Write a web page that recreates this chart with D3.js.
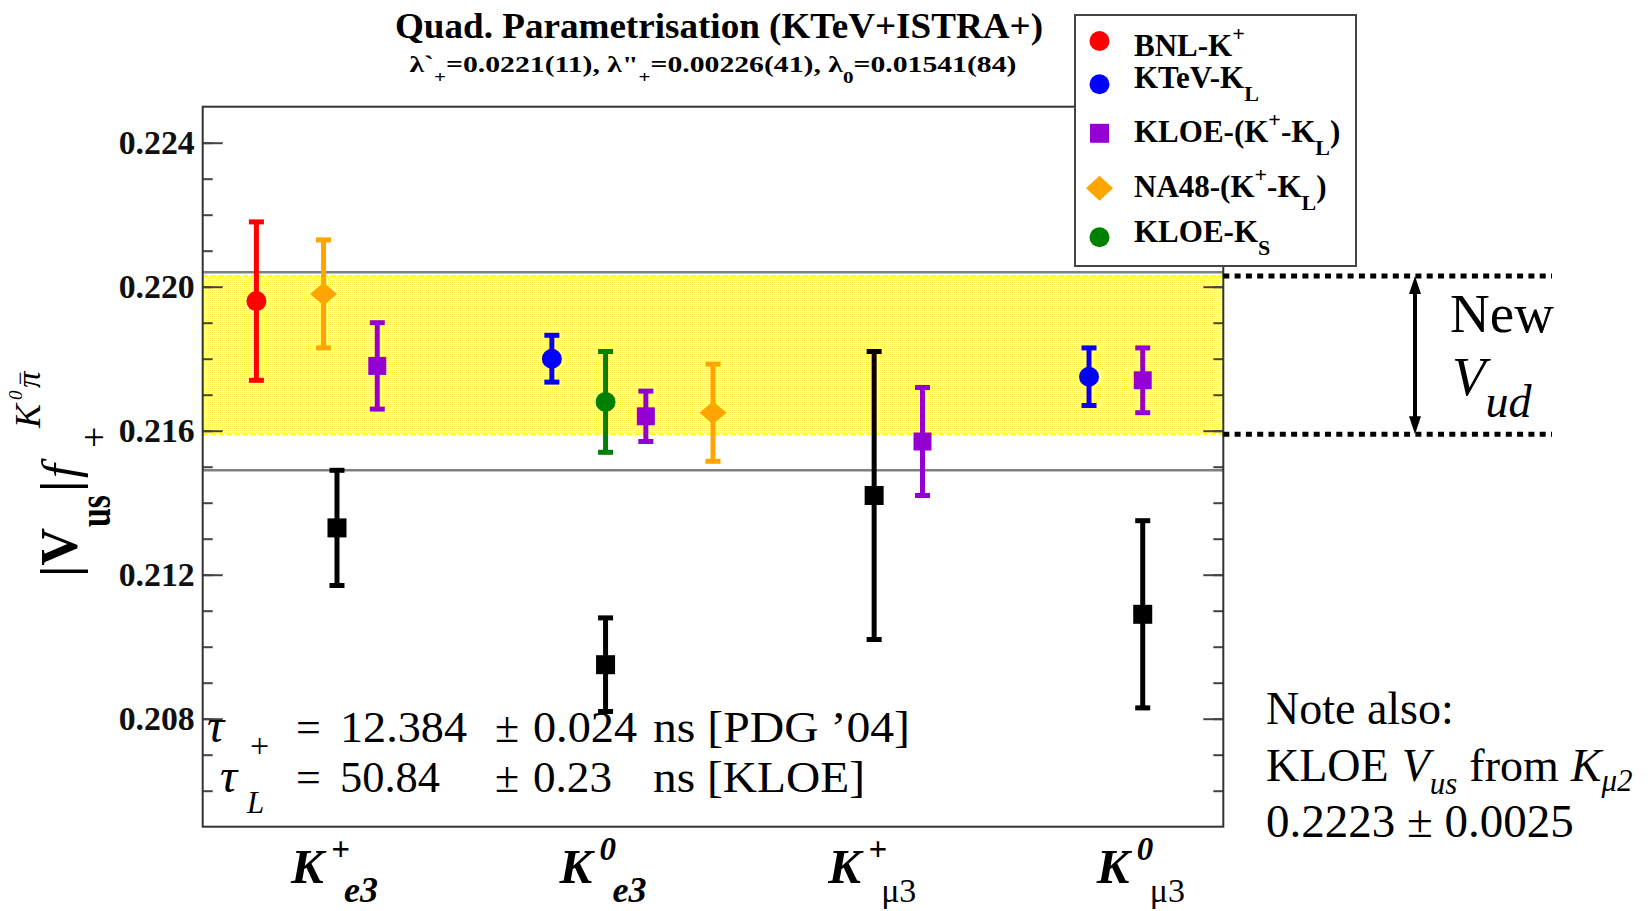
<!DOCTYPE html>
<html>
<head>
<meta charset="utf-8">
<script src="https://cdn.jsdelivr.net/npm/d3@7"></script>
<style>
  body { margin: 0; background: #fff; }
  svg { display: block; font-family: "Liberation Serif", "Times New Roman", serif; }
</style>
</head>
<body>
<svg id="chart" width="1650" height="911"></svg>
<script>
// ---- data ----
// decay channels (x = 1..4)
const categories = [1, 2, 3, 4]
const catMain = ["K", "K", "K", "K"]
const catSup = ["+", "0", "+", "0"]
const catSub = ["e3", "e3", "μ3", "μ3"]

// experiments
const expKeys = ["BNL", "KTeV", "KLOE", "NA48", "KLOEs"]
const expLabels = [
    [["BNL-K", 0], ["+", 1]],
    [["KTeV-K", 0], ["L", -1]],
    [["KLOE-(K", 0], ["+", 1], ["-K", 0], ["L", -1], [")", 0]],
    [["NA48-(K", 0], ["+", 1], ["-K", 0], ["L", -1], [")", 0]],
    [["KLOE-K", 0], ["S", -1]]
]

// points: x position (channel + shift), experiment, value, error
const pointX = [0.70, 0.95, 1.15, 1.00, 1.80, 2.00, 2.15, 2.40, 2.00, 3.00, 3.18, 3.80, 4.00, 4.00]
const pointExp = ["BNL", "NA48", "KLOE", "old", "KTeV", "KLOEs", "KLOE", "NA48", "old", "old", "KLOE", "KTeV", "KLOE", "old"]
const pointValue = [0.2196, 0.2198, 0.2178, 0.2133, 0.2180, 0.2168, 0.2164, 0.2165, 0.2095, 0.2142, 0.2157, 0.2175, 0.2174, 0.2109]
const pointError = [0.0022, 0.0015, 0.0012, 0.0016, 0.00065, 0.0014, 0.0007, 0.00135, 0.0013, 0.0040, 0.0015, 0.0008, 0.0009, 0.0026]

// bands
const vudBand = [0.2159, 0.2203]
const oldLines = [0.2149, 0.2204]

// y ticks
const majorTicks = [0.208, 0.212, 0.216, 0.220, 0.224]

// ---- styles ----
const colors = { BNL: "#ff0000", KTeV: "#0000ff", KLOE: "#9400d3", NA48: "#ffa500", KLOEs: "#008000", old: "#000000" }
const shapes = { BNL: "circle", KTeV: "circle", KLOE: "square", NA48: "diamond", KLOEs: "circle", old: "square" }

const svg = d3.select("#chart")

const x = d3.scaleLinear().domain([0.5, 4.3]).range([202.7, 1223.3])
const y = d3.scaleLinear().domain([0.205, 0.225]).range([826.7, 106.7])
const [x0, x1] = x.range()
const [yB, yT] = y.range()

// helper for text with sub/superscripts
function rich(sel, parts, smallSize, supDy, subDy) {
    let cur = 0
    parts.forEach(([t, k]) => {
        const target = k === 1 ? supDy : k === -1 ? subDy : 0
        const ts = sel.append("tspan").attr("dy", target - cur).text(t)
        if (k) ts.attr("font-size", smallSize)
        cur = target
    })
}

// marker drawing
function marker(g, shape, cx, cy, color, big) {
    if (shape === "circle") {
        g.append("circle").attr("cx", cx).attr("cy", cy).attr("r", 10).attr("fill", color)
    } else if (shape === "square") {
        const s = big ? 19 : 18
        g.append("rect").attr("x", cx - s / 2).attr("y", cy - s / 2).attr("width", s).attr("height", s).attr("fill", color)
    } else {
        const w = 13.5, h = big ? 12.5 : 11.5
        g.append("path").attr("d", `M${cx - w},${cy}L${cx},${cy - h}L${cx + w},${cy}L${cx},${cy + h}Z`).attr("fill", color)
    }
}

// ---- band ----
const defs = svg.append("defs")
const pat = defs.append("pattern").attr("id", "dots").attr("width", 2).attr("height", 2)
    .attr("patternUnits", "userSpaceOnUse")
pat.append("rect").attr("width", 2).attr("height", 2).attr("fill", "#fffad2")
pat.append("rect").attr("width", 1).attr("height", 1).attr("fill", "#fff050")

svg.append("rect")
    .attr("x", x0).attr("y", y(vudBand[1]))
    .attr("width", x1 - x0).attr("height", y(vudBand[0]) - y(vudBand[1]))
    .attr("fill", "url(#dots)")
vudBand.forEach(v => {
    svg.append("line").attr("x1", x0).attr("x2", x1).attr("y1", y(v)).attr("y2", y(v))
        .attr("stroke", "#ffff00").attr("stroke-width", 2).attr("stroke-dasharray", "5,3")
})

// old lines
oldLines.forEach(v => {
    svg.append("line").attr("x1", x0).attr("x2", x1).attr("y1", y(v)).attr("y2", y(v))
        .attr("stroke", "#808080").attr("stroke-width", 2.5)
})

// ---- axes ----
const minorTicks = y.ticks(20).filter(t => t > 0.2055 && t < 0.2245)

function styleAxis(g) {
    g.select(".domain").remove()
    g.selectAll(".tick line").attr("stroke", "#444").attr("stroke-width", 2)
}

svg.append("g").attr("transform", `translate(${x0},0)`)
    .call(d3.axisLeft(y).tickValues(minorTicks).tickSize(-10).tickFormat(""))
    .call(styleAxis)
svg.append("g").attr("transform", `translate(${x0},0)`)
    .call(d3.axisLeft(y).tickValues(majorTicks).tickSize(-20).tickPadding(8).tickFormat(d3.format(".3f")))
    .call(styleAxis)
    .call(g => g.selectAll("text")
        .attr("font-family", "Liberation Serif, serif")
        .attr("font-size", 34).attr("font-weight", "bold").attr("fill", "#111")
        .attr("textLength", 76).attr("lengthAdjust", "spacingAndGlyphs"))
svg.append("g").attr("transform", `translate(${x1},0)`)
    .call(d3.axisRight(y).tickValues(minorTicks).tickSize(-10).tickFormat(""))
    .call(styleAxis)
svg.append("g").attr("transform", `translate(${x1},0)`)
    .call(d3.axisRight(y).tickValues(majorTicks).tickSize(-20).tickFormat(""))
    .call(styleAxis)

// frame
svg.append("rect").attr("x", x0).attr("y", yT).attr("width", x1 - x0).attr("height", yB - yT)
    .attr("fill", "none").attr("stroke", "#333").attr("stroke-width", 2)

// ---- points ----
const pts = svg.append("g")
pointX.forEach((px, i) => {
    const exp = pointExp[i]
    const c = colors[exp]
    const cx = x(px)
    const top = y(pointValue[i] + pointError[i])
    const bot = y(pointValue[i] - pointError[i])
    pts.append("line").attr("x1", cx).attr("x2", cx).attr("y1", top).attr("y2", bot)
        .attr("stroke", c).attr("stroke-width", 5)
    ;[top, bot].forEach(yy => pts.append("rect").attr("x", cx - 7.5).attr("y", yy - 2.5)
        .attr("width", 15).attr("height", 5).attr("fill", c))
    marker(pts, shapes[exp], cx, y(pointValue[i]), c, exp === "old")
})

// ---- x labels ----
categories.forEach((cat, i) => {
    const cx = x(cat)
    svg.append("text").attr("x", cx - 46).attr("y", 883)
        .attr("font-size", 49).attr("font-weight", "bold").attr("font-style", "italic").text(catMain[i])
    svg.append("text").attr("x", cx - 6).attr("y", 860)
        .attr("font-size", 33).attr("font-weight", "bold").attr("font-style", "italic").text(catSup[i])
    const isE = catSub[i][0] === "e"
    svg.append("text").attr("x", cx + 7).attr("y", 902)
        .attr("font-size", isE ? 36 : 34)
        .attr("font-weight", isE ? "bold" : "normal")
        .attr("font-style", isE ? "italic" : "normal")
        .text(catSub[i])
})

// ---- y title ----
const yt = svg.append("g").attr("transform", "translate(77,577) rotate(-90)")
const ytPieces = [
    { t: "|V", u: 0, w: 0, s: 52, b: true, it: false },
    { t: "us", u: 50, w: 33, s: 46, b: true, it: false, len: 32 },
    { t: "|", u: 85, w: 0, s: 52, b: true, it: false },
    { t: "f", u: 99, w: 0, s: 50, b: false, it: true },
    { t: "+", u: 129, w: 30, s: 38, b: false, it: false },
    { t: "K", u: 149, w: -37, s: 36, b: false, it: true },
    { t: "0", u: 177, w: -55, s: 19, b: false, it: true },
    { t: "π", u: 189, w: -37, s: 33, b: false, it: true },
    { t: "−", u: 192, w: -49, s: 24, b: false, it: false }
]
ytPieces.forEach(p => {
    const t = yt.append("text").attr("x", p.u).attr("y", p.w).attr("font-size", p.s)
        .attr("font-weight", p.b ? "bold" : "normal").attr("font-style", p.it ? "italic" : "normal").text(p.t)
    if (p.len) t.attr("textLength", p.len).attr("lengthAdjust", "spacingAndGlyphs")
})

// ---- title ----
svg.append("text").attr("x", 719).attr("y", 38).attr("text-anchor", "middle")
    .attr("font-size", 35).attr("font-weight", "bold")
    .attr("textLength", 648).attr("lengthAdjust", "spacingAndGlyphs")
    .text("Quad. Parametrisation (KTeV+ISTRA+)")
const sub = svg.append("text").attr("x", 713).attr("y", 71.7).attr("text-anchor", "middle")
    .attr("font-size", 24).attr("font-weight", "bold")
    .attr("textLength", 607).attr("lengthAdjust", "spacingAndGlyphs")
rich(sub, [["λ`", 0], ["+", -1], ["=0.0221(11), λ\"", 0], ["+", -1], ["=0.00226(41), λ", 0], ["0", -1], ["=0.01541(84)", 0]], 17, -10, 11)

// ---- tau annotations ----
function seg(txt, xx, yy, size, opts = {}) {
    const t = svg.append("text").attr("x", xx).attr("y", yy).attr("font-size", size)
        .attr("font-style", opts.it ? "italic" : "normal").text(txt)
    if (opts.len) t.attr("textLength", opts.len).attr("lengthAdjust", "spacingAndGlyphs")
    return t
}
seg("τ", 207, 741.7, 48, { it: true })
seg("+", 250, 757, 34)
seg("=", 296, 741.7, 44)
seg("12.384", 340, 741.7, 44, { len: 127 })
seg("±", 495, 741.7, 44)
seg("0.024", 533, 741.7, 44, { len: 104 })
seg("ns [PDG ’04]", 653, 741.7, 44, { len: 257 })
seg("τ", 220, 791.7, 48, { it: true })
seg("L", 247, 813, 31, { it: true })
seg("=", 296, 791.7, 44)
seg("50.84", 340, 791.7, 44, { len: 100 })
seg("±", 495, 791.7, 44)
seg("0.23", 533, 791.7, 44, { len: 79 })
seg("ns [KLOE]", 653, 791.7, 44, { len: 212 })

// ---- legend ----
const lg = svg.append("g")
lg.append("rect").attr("x", 1075).attr("y", 15).attr("width", 281).attr("height", 251)
    .attr("fill", "#fff").attr("stroke", "#444").attr("stroke-width", 2)
const legSymY = [41, 84.3, 133.3, 188.3, 237.3]
const legTxtY = [56, 88.3, 141.7, 196.7, 241.7]
expKeys.forEach((k, i) => {
    marker(lg, shapes[k], 1099.5, legSymY[i], colors[k], true)
    const t = lg.append("text").attr("x", 1134).attr("y", legTxtY[i])
        .attr("font-size", 31).attr("font-weight", "bold")
    rich(t, expLabels[i], 22, -15, 13)
})

// ---- new Vud marker ----
const yHi = y(vudBand[1]), yLo = y(vudBand[0])
;[yHi, yLo].forEach(yy => {
    svg.append("line").attr("x1", x1).attr("x2", 1552).attr("y1", yy).attr("y2", yy)
        .attr("stroke", "#000").attr("stroke-width", 5).attr("stroke-dasharray", "6,5.3")
})
const ax = 1415
svg.append("line").attr("x1", ax).attr("x2", ax).attr("y1", yHi + 14).attr("y2", yLo - 14)
    .attr("stroke", "#000").attr("stroke-width", 4)
svg.append("path").attr("d", `M${ax},${yHi}L${ax - 6},${yHi + 18}L${ax + 6},${yHi + 18}Z`).attr("fill", "#000")
svg.append("path").attr("d", `M${ax},${yLo}L${ax - 6},${yLo - 18}L${ax + 6},${yLo - 18}Z`).attr("fill", "#000")

svg.append("text").attr("x", 1450).attr("y", 332).attr("font-size", 55).text("New")
const vud = svg.append("text").attr("x", 1452).attr("y", 395).attr("font-size", 55).attr("font-style", "italic")
rich(vud, [["V", 0], ["ud", -1]], 46, 0, 22)

// ---- note ----
svg.append("text").attr("x", 1266).attr("y", 724).attr("font-size", 46).text("Note also:")
const n2 = svg.append("text").attr("x", 1266).attr("y", 781).attr("font-size", 46)
n2.append("tspan").text("KLOE")
n2.append("tspan").attr("dx", 13).attr("font-style", "italic").text("V")
n2.append("tspan").attr("font-style", "italic").attr("font-size", 31).attr("dy", 13).text("us")
n2.append("tspan").attr("dx", 12).attr("dy", -13).text("from")
n2.append("tspan").attr("dx", 12).attr("font-style", "italic").text("K")
n2.append("tspan").attr("font-style", "italic").attr("font-size", 31).attr("dy", 10).text("μ2")
svg.append("text").attr("x", 1266).attr("y", 837).attr("font-size", 47).text("0.2223 ± 0.0025")
</script>
</body>
</html>
